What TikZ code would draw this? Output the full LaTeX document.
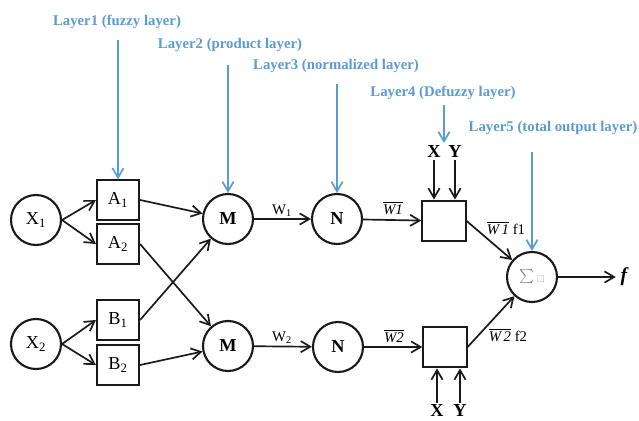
\documentclass[tikz,border=0pt]{standalone}
\usepackage{fontspec}
\setmainfont{Liberation Serif}
\newfontfamily\symfont{DejaVu Sans}
\usepackage{xcolor}
\usetikzlibrary{arrows.meta,positioning}
\definecolor{LayerBlue}{HTML}{5B9BD5}
\definecolor{Ink}{HTML}{1A1A1A}

\begin{document}
\begin{tikzpicture}[x=0.025cm,y=-0.025cm,
  neuron/.style={draw=Ink,line width=1.5pt,circle,minimum size=1.25cm,inner sep=0pt,font=\fontsize{13}{15}\selectfont},
  mf/.style={draw=Ink,line width=1.5pt,minimum width=1.05cm,minimum height=0.98cm,inner sep=0pt,font=\fontsize{13}{15}\selectfont},
  defz/.style={draw=Ink,line width=1.5pt,minimum width=1.08cm,minimum height=1.02cm,inner sep=0pt},
  lbl/.style={text=LayerBlue,font=\fontsize{10.5}{12}\selectfont\bfseries,inner sep=1pt},
  wlbl/.style={font=\fontsize{10.5}{12}\selectfont,inner sep=1pt},
  xy/.style={font=\fontsize{13}{15}\selectfont\bfseries,inner sep=1pt},
  arr/.style={-{Straight Barb[length=2.4mm,width=2.8mm]},line width=1.2pt,draw=Ink},
  barr/.style={-{Straight Barb[length=2.4mm,width=2.8mm]},line width=1.2pt,draw=LayerBlue}
]
\useasboundingbox (0,0) rectangle (639,421);

% layer captions
\node[lbl] (l1) at (117,22) {Layer1 (fuzzy layer)};
\node[lbl] (l2) at (230,45) {Layer2 (product layer)};
\node[lbl] (l3) at (336,66) {Layer3 (normalized layer)};
\node[lbl] (l4) at (443,93) {Layer4 (Defuzzy layer)};
\node[lbl] (l5) at (553,128) {Layer5 (total output layer)};

% inputs and membership functions
\node[neuron] (x1) at (36,220) {X\textsubscript{1}};
\node[neuron] (x2) at (36,344) {X\textsubscript{2}};
\node[mf] (a1) at (118,200) {A\textsubscript{1}};
\node[mf] (a2) at (118,244) {A\textsubscript{2}};
\node[mf] (b1) at (118,320) {B\textsubscript{1}};
\node[mf] (b2) at (118,365) {B\textsubscript{2}};

% product, normalization, defuzzification, sum
\node[neuron,font=\fontsize{13}{15}\selectfont\bfseries] (m1) at (228,219) {M};
\node[neuron,font=\fontsize{13}{15}\selectfont\bfseries] (m2) at (228,346) {M};
\node[neuron,font=\fontsize{13}{15}\selectfont\bfseries] (n1) at (337,219) {N};
\node[neuron,font=\fontsize{13}{15}\selectfont\bfseries] (n2) at (338,347) {N};
\node[defz] (d1) at (444,221) {};
\node[defz] (d2) at (445,347) {};
\node[neuron] (sum) at (532,277) {\textcolor{gray}{$\sum$}\,{\symfont\fontsize{6}{6}\selectfont\textcolor{gray!60}{□}}};
\node[font=\fontsize{14}{16}\selectfont\bfseries\itshape] (fout) at (624,277) {f};

% X Y inputs of layer 4
\node[xy] (xt) at (434,152) {X};
\node[xy] (yt) at (455,152) {Y};
\node[xy] (xb) at (437,411) {X};
\node[xy] (yb) at (460,411) {Y};
\coordinate (l4end) at (444,143);

% labels on connectors
\node[wlbl] (w1) at (282,211) {W\textsubscript{1}};
\node[wlbl] (w2) at (282,338) {W\textsubscript{2}};
\node[wlbl] (nw1) at (393,208) {$\overline{\mbox{\itshape W1}}$};
\node[wlbl] (nw2) at (394,336) {$\overline{\mbox{\itshape W2}}$};
\node[wlbl] (o1) at (506,228) {$\overline{\mbox{\itshape W\,1}}$ f1};
\node[wlbl] (o2) at (508,335) {$\overline{\mbox{\itshape W\,2}}$ f2};

\draw[arr] (x1.east) -- (a1.west);
\draw[arr] (x1.east) -- (a2.west);
\draw[arr] (x2.east) -- (b1.west);
\draw[arr] (x2.east) -- (b2.west);
\draw[arr] (a1.east) -- (m1);
\draw[arr] (a2.east) -- (m2);
\draw[arr] (b1.east) -- (m1);
\draw[arr] (b2.east) -- (m2);
\draw[arr] (m1) -- (n1);
\draw[arr] (m2) -- (n2);
\draw[arr] (n1) -- (d1);
\draw[arr] (n2) -- (d2);
\draw[arr] (d1.east) -- (sum);
\draw[arr] (d2.east) -- (sum);
\draw[arr] (sum) -- (fout);
\draw[arr] (xt) -- (xt |- d1.north);
\draw[arr] (yt) -- (yt |- d1.north);
\draw[arr] (xb) -- (xb |- d2.south);
\draw[arr] (yb) -- (yb |- d2.south);

\draw[barr,shorten <=2.5mm] (l1.south -| a1) -- (a1);
\draw[barr,shorten <=3mm] (l2.south -| m1) -- (m1);
\draw[barr,shorten <=2.5mm] (l3.south -| n1) -- (n1);
\draw[barr,shorten <=1mm] (l4.south -| l4end) -- (l4end);
\draw[barr,shorten <=4mm] (l5.south -| sum) -- (sum);
\end{tikzpicture}
\end{document}
